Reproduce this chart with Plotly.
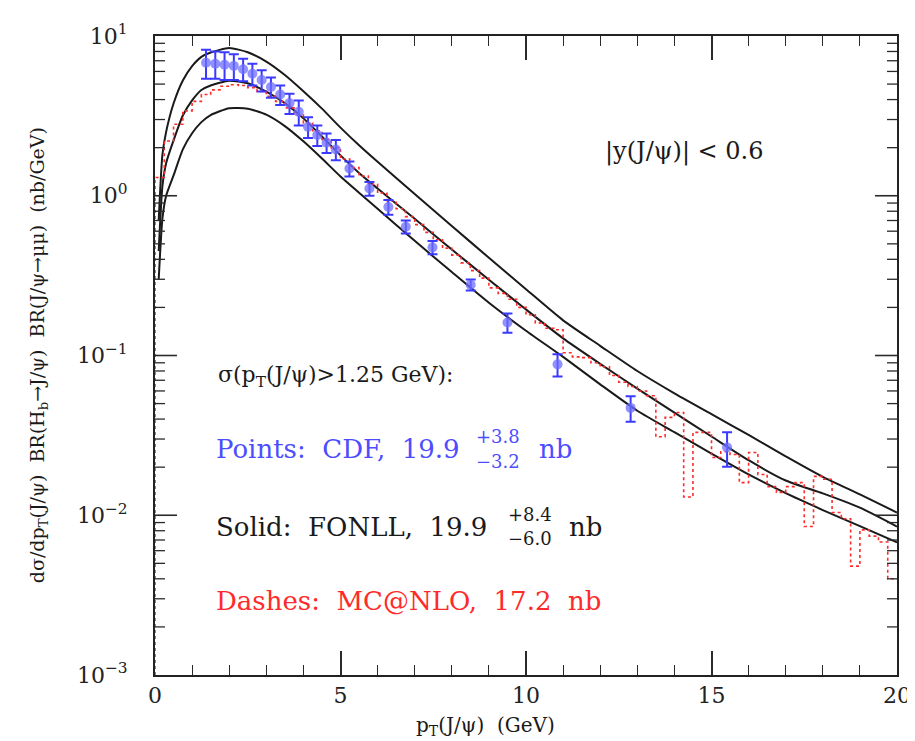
import plotly.graph_objects as go

# ---------------- data ----------------
fonll_pt = [0.1, 0.2, 0.3, 0.5, 0.75, 1.0, 1.25, 1.5, 2.0, 2.5, 3.0, 3.5, 4.0, 4.5, 5.0,
            5.5, 6.0, 7.0, 8.0, 9.0, 10.0, 11.0, 12.0, 13.0, 14.0, 15.0, 16.0, 17.0,
            18.0, 19.0, 20.0]
fonll_upper = [0.7, 1.81, 2.51, 3.78, 5.27, 6.48, 7.40, 7.88, 8.41, 7.91, 6.92, 5.70, 4.51,
               3.51, 2.67, 2.07, 1.63, 1.025, 0.647, 0.409, 0.260, 0.166, 0.115, 0.080,
               0.058, 0.043, 0.0318, 0.0234, 0.0174, 0.0135, 0.0104]
fonll_central = [0.45, 1.15, 1.6, 2.22, 3.18, 3.95, 4.59, 4.90, 5.25, 5.06, 4.49, 3.80, 3.05,
                 2.35, 1.79, 1.39, 1.11, 0.717, 0.461, 0.298, 0.194, 0.128, 0.0887, 0.062,
                 0.0439, 0.0311, 0.0221, 0.0165, 0.0137, 0.01116, 0.0085]
fonll_lower = [0.3, 0.72, 1.0, 1.34, 1.95, 2.46, 2.89, 3.20, 3.53, 3.51, 3.22, 2.73, 2.19,
               1.71, 1.32, 1.045, 0.829, 0.522, 0.333, 0.214, 0.143, 0.098, 0.066, 0.0451,
               0.0331, 0.0243, 0.018, 0.01374, 0.01078, 0.00855, 0.00676]

# MC@NLO histogram: 0.25 GeV bins, left edges 0 .. 19.75 (plus right edge 20)
mcnlo_edges = [i * 0.25 for i in range(81)]
mcnlo_vals = [1.3, 2.2, 2.8, 3.4, 3.9, 4.3, 4.6, 4.85, 4.95, 4.9, 4.75, 4.5, 4.2, 3.9,
              3.55, 3.2, 2.85, 2.55, 2.25, 2.0, 1.70, 1.50, 1.33, 1.18, 1.04, 0.93, 0.83,
              0.74, 0.66, 0.59, 0.53, 0.47, 0.425, 0.38, 0.34, 0.305, 0.265, 0.245, 0.225,
              0.20, 0.18, 0.16, 0.148, 0.145, 0.104, 0.098, 0.097, 0.090, 0.085, 0.075,
              0.068, 0.064, 0.060, 0.056, 0.031, 0.041, 0.044, 0.013, 0.033, 0.033, 0.023,
              0.025, 0.024, 0.016, 0.0247, 0.018, 0.0151, 0.0139, 0.0151, 0.016, 0.0085,
              0.0175, 0.0168, 0.0104, 0.0095, 0.0048, 0.0081, 0.0074, 0.0068, 0.004]
mcnlo_floor = 0.001

cdf_pt = [1.375, 1.625, 1.875, 2.125, 2.375, 2.625, 2.875, 3.125, 3.375, 3.625, 3.875,
          4.125, 4.375, 4.625, 4.875, 5.24, 5.78, 6.29, 6.76, 7.48, 8.51, 9.5, 10.85,
          12.82, 15.42]
cdf_val = [6.8, 6.7, 6.6, 6.5, 6.2, 5.8, 5.3, 4.8, 4.3, 3.8, 3.35, 2.7, 2.4, 2.15, 1.95,
           1.48, 1.11, 0.85, 0.64, 0.475, 0.277, 0.161, 0.088, 0.047, 0.0266]
cdf_err = [1.4, 1.3, 1.3, 1.2, 1.0, 0.9, 0.8, 0.7, 0.6, 0.55, 0.6, 0.4, 0.35, 0.3, 0.28,
           0.16, 0.11, 0.09, 0.06, 0.045, 0.022, 0.022, 0.014, 0.0085, 0.0065]

y_tickvals = [0.001, 0.01, 0.1, 1, 10]
y_ticktext = ["10<sup>−3</sup>", "10<sup>−2</sup>", "10<sup>−1</sup>", "10<sup>0</sup>", "10<sup>1</sup>"]
x_tickvals = [0, 5, 10, 15, 20]
y_minor_mult = [2, 3, 4, 5, 6, 7, 8, 9]
y_minor_decades = [0.001, 0.01, 0.1, 1]

# ---------------- figure ----------------
W, H = 915, 741
L, R, T, B = 147, 25, 24, 74
PW, PH = W - L - R, H - T - B
X_RANGE = [0, 20]
Y_LOG_RANGE = [-3, 1]
GEV_PER_PX = (X_RANGE[1] - X_RANGE[0]) / PW

def px(x):
    return (x - L) / PW

def py(y):
    return (H - B - y) / PH

FONT = "DejaVu Serif"
BLUE = "#4d4dff"
RED = "#ff2a2a"
INK = "#1a1a1a"
TICK = "#2a2a2a"

fig = go.Figure()

for series in (fonll_upper, fonll_central, fonll_lower):
    fig.add_trace(go.Scatter(x=fonll_pt, y=series, mode="lines",
                             line=dict(color=INK, width=2, shape="spline", smoothing=0.6),
                             showlegend=False, hoverinfo="skip"))

red_x = [mcnlo_edges[0]] + mcnlo_edges
red_y = [mcnlo_floor] + mcnlo_vals + [mcnlo_vals[-1]]
fig.add_trace(go.Scatter(x=red_x, y=red_y, mode="lines",
                         line=dict(color=RED, width=1.6, dash="3px,3px", shape="hv"),
                         showlegend=False, hoverinfo="skip"))

fig.add_trace(go.Scatter(x=cdf_pt, y=cdf_val, mode="markers",
                         marker=dict(color="rgba(110,110,255,0.75)", size=10, symbol="circle"),
                         error_y=dict(type="data", array=cdf_err, color="#3a3aff",
                                      thickness=2, width=5),
                         showlegend=False, hoverinfo="skip"))

# y-axis tick marks drawn as short segments along both frame edges
minor_y = [m * d for d in y_minor_decades for m in y_minor_mult]
for vals, length_px, width in ((y_tickvals[1:-1], 22, 1.6), (minor_y, 10, 1.3)):
    tx, ty = [], []
    for v in vals:
        ln = length_px * GEV_PER_PX
        tx += [X_RANGE[0], X_RANGE[0] + ln, None, X_RANGE[1] - ln, X_RANGE[1], None]
        ty += [v, v, None, v, v, None]
    fig.add_trace(go.Scatter(x=tx, y=ty, mode="lines", line=dict(color=TICK, width=width),
                             showlegend=False, hoverinfo="skip", cliponaxis=False))

pad = "\u00a0\u00a0\u00a0"

fig.update_layout(
    width=W, height=H,
    margin=dict(l=L, r=R, t=T, b=B),
    paper_bgcolor="white", plot_bgcolor="white",
    xaxis=dict(range=X_RANGE, tickvals=x_tickvals, ticklen=24, tickwidth=1.5,
               minor=dict(dtick=1, tick0=0, ticks="inside", ticklen=10, tickwidth=1.2,
                          tickcolor=TICK),
               showline=True, linecolor="#222", linewidth=2, mirror="allticks",
               showgrid=False, zeroline=False, ticks="inside", tickcolor=TICK,
               tickfont=dict(family=FONT, size=22, color="#222")),
    yaxis=dict(type="log", range=Y_LOG_RANGE, tickvals=y_tickvals,
               ticktext=[t + pad for t in y_ticktext],
               showline=True, linecolor="#222", linewidth=2, mirror=True,
               showgrid=False, zeroline=False, ticks="",
               tickfont=dict(family=FONT, size=22, color="#222")),
)

def ann(text, x, y, size, color=INK, xanchor="left", angle=0):
    fig.add_annotation(text=text, x=px(x), y=py(y), xref="paper", yref="paper",
                       showarrow=False, xanchor=xanchor, yanchor="middle", textangle=angle,
                       font=dict(family=FONT, size=size, color=color))

ann("|y(J/ψ)| &lt; 0.6", 677, 140, 24, xanchor="center")
ann("σ(p<sub>T</sub>(J/ψ)>1.25 GeV):", 208, 367, 22)
ann("Points:  CDF,  19.9", 206, 440, 26, color=BLUE)
ann("+3.8", 466, 427, 18, color=BLUE)
ann("−3.2", 466, 452, 18, color=BLUE)
ann("nb", 530, 440, 26, color=BLUE)
ann("Solid:  FONLL,  19.9", 206, 518, 26)
ann("+8.4", 498, 505, 18)
ann("−6.0", 498, 530, 18)
ann("nb", 560, 518, 26)
ann("Dashes:  MC@NLO,  17.2  nb", 206, 593, 26, color=RED)

ann("p<sub>T</sub>(J/ψ)  (GeV)", 478, 718, 20, xanchor="center")
ann("dσ/dp<sub>T</sub>(J/ψ)  BR(H<sub>b</sub>→J/ψ)  BR(J/ψ→μμ)  (nb/GeV)", 30, 345, 19,
    xanchor="center", angle=-90)

fig.write_html("out.html")
